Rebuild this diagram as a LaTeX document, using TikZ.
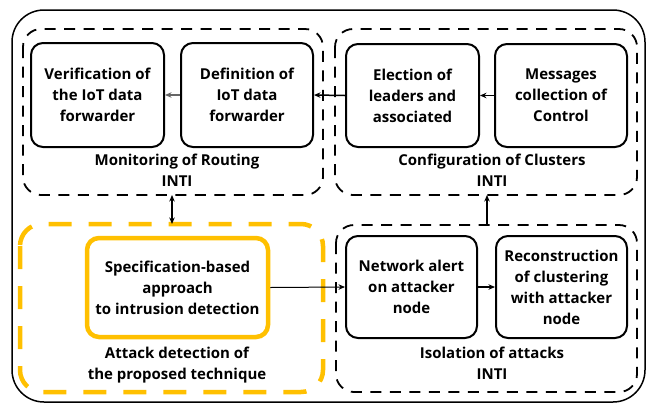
\documentclass[tikz,border=0pt]{standalone}
\usepackage{fontspec}
\setmainfont{Open Sans}[BoldFont={Open Sans Bold}]
\usetikzlibrary{arrows.meta}
\definecolor{gold}{RGB}{255,192,0}
\begin{document}
\begin{tikzpicture}[x=1pt,y=-1pt,
  font=\bfseries\fontsize{15}{21}\selectfont,
  stepbox/.style={draw,line width=2pt,rounded corners=12pt,align=center,inner sep=0pt},
  groupbox/.style={draw,line width=1.8pt,dash pattern=on 11pt off 8.5pt,rounded corners=18pt},
  goldgroup/.style={draw=gold,line width=4.5pt,dash pattern=on 23pt off 17pt,rounded corners=22pt},
  lbl/.style={align=center,inner sep=0pt},
  conn/.style={line width=1.5pt,-{Stealth[length=6.5pt,width=5.5pt]}}]
\useasboundingbox (0,0) rectangle (651,408);
% outer frame
\draw[line width=1.5pt,rounded corners=32pt] (12,10) rectangle (645,402);
% group frames
\draw[groupbox] (23,29) rectangle (323,195);
\draw[groupbox] (335,29) rectangle (637,195);
\draw[groupbox] (336,225) rectangle (637,392);
\draw[goldgroup] (20,224) rectangle (323,392);
% steps
\node[stepbox,minimum width=133pt,minimum height=104pt] (ver) at (97.5,95) {Verification of\\the IoT data\\forwarder};
\node[stepbox,minimum width=132pt,minimum height=104pt] (def) at (247,95) {Definition of\\IoT data\\forwarder};
\node[stepbox,minimum width=133pt,minimum height=103pt] (ele) at (412.5,95.5) {Election of\\leaders and\\associated};
\node[stepbox,minimum width=132pt,minimum height=103pt] (msg) at (561,95.5) {Messages\\collection of\\Control};
\node[stepbox,draw=gold,line width=4.5pt,minimum width=181pt,minimum height=99pt] (spec) at (177.5,287.5) {Specification-based\\approach\\to intrusion detection};
\node[stepbox,minimum width=131pt,minimum height=102pt] (alert) at (411.5,287) {Network alert\\on attacker\\node};
\node[stepbox,minimum width=131pt,minimum height=102pt] (rec) at (561.5,287) {Reconstruction\\of clustering\\with attacker\\node};
% group labels
\node[lbl] (monl) at (177,170) {Monitoring of Routing\\INTI};
\node[lbl] (cfgl) at (492,170) {Configuration of Clusters\\INTI};
\node[lbl] (atkl) at (177,365) {Attack detection of\\the proposed technique};
\node[lbl] (isol) at (492,363) {Isolation of attacks\\INTI};
% anchor points on the group frames
\coordinate (monb) at (172,195);
\coordinate (atkt) at (172,224);
\coordinate (isot) at (487,225);
\coordinate (cfgb) at (487,195);
% connectors
\draw[conn,draw=gray!80!black] (def.west) -- (ver.east);
\draw[conn] (msg.west) -- (ele.east);
\draw[conn] (ele.west) -- (def.east);
\draw[conn,{Stealth[length=6.5pt,width=5.5pt]}-{Stealth[length=6.5pt,width=5.5pt]}] (monb) -- (atkt);
\draw[conn] (isot) -- (cfgb);
\draw[conn,line width=1pt] (spec.east) -- (alert.west);
\draw[conn] (alert.east) -- (rec.west);
\end{tikzpicture}
\end{document}
